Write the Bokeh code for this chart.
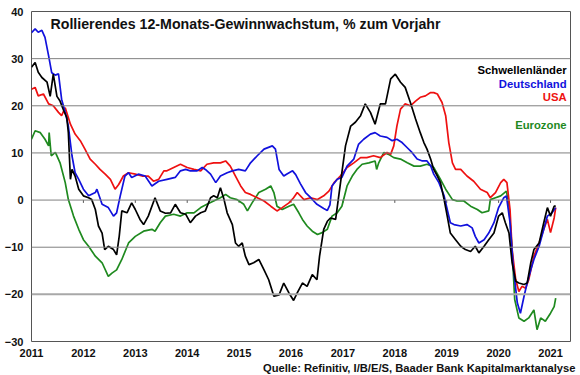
from bokeh.plotting import figure
from bokeh.models import FixedTicker, Span, Label, Range1d, Title
from bokeh.embed import file_html
from bokeh.resources import INLINE

# ---------------- data (decimal years, % yoy) ----------------
years = [2011, 2012, 2013, 2014, 2015, 2016, 2017, 2018, 2019, 2020, 2021]
y_ticks = [-30, -20, -10, 0, 10, 20, 30, 40]

t_em = [2011.00, 2011.07, 2011.13, 2011.20, 2011.30, 2011.36, 2011.42, 2011.49, 2011.55, 2011.62,
        2011.68, 2011.71, 2011.75, 2011.78, 2011.84, 2011.91, 2012.00, 2012.10, 2012.16, 2012.23,
        2012.29, 2012.36, 2012.41, 2012.48, 2012.58, 2012.64, 2012.69, 2012.74, 2012.84, 2012.93,
        2013.00, 2013.09, 2013.16, 2013.25, 2013.38, 2013.48, 2013.58, 2013.68, 2013.77, 2013.87,
        2013.97, 2014.06, 2014.16, 2014.26, 2014.35, 2014.45, 2014.51, 2014.58, 2014.64, 2014.71,
        2014.77, 2014.87, 2014.93, 2014.99, 2015.06, 2015.12, 2015.19, 2015.28, 2015.38, 2015.48,
        2015.57, 2015.67, 2015.77, 2015.86, 2015.96, 2016.05, 2016.12, 2016.22, 2016.31, 2016.41,
        2016.50, 2016.55, 2016.63, 2016.70, 2016.76, 2016.86, 2016.92, 2016.98, 2017.05, 2017.15,
        2017.24, 2017.34, 2017.43, 2017.53, 2017.62, 2017.72, 2017.82, 2017.92, 2018.01, 2018.11,
        2018.20, 2018.30, 2018.40, 2018.49, 2018.56, 2018.62, 2018.69, 2018.75, 2018.82, 2018.88,
        2018.95, 2019.01, 2019.07, 2019.17, 2019.27, 2019.36, 2019.46, 2019.55, 2019.62, 2019.72,
        2019.81, 2019.91, 2020.00, 2020.07, 2020.13, 2020.20, 2020.26, 2020.33, 2020.39, 2020.49,
        2020.55, 2020.62, 2020.68, 2020.78, 2020.87, 2020.94, 2021.00, 2021.07, 2021.10]
v_em = [28.2, 29.2, 27.1, 26.0, 25.0, 22.0, 26.7, 22.0, 21.0, 19.0,
        17.5, 14.3, 4.4, 6.5, 5.1, 2.3, 0.9, 0.5, 0.1, -2.0,
        -5.5, -7.0, -10.5, -9.8, -10.5, -11.6, -7.7, -2.3, -2.7, -0.6,
        -2.0, -4.1, -5.2, -3.4, 0.5, -2.3, -2.8, -2.7, -0.9, -2.7,
        -3.0, -4.8, -3.4, -2.7, -2.3, 0.5, 0.9, 0.5, 2.6, 0.1,
        -2.7, -5.2, -9.1, -9.8, -9.1, -11.9, -13.7, -13.3, -12.6, -14.8,
        -16.9, -20.4, -20.1, -17.6, -19.7, -21.3, -19.7, -17.6, -18.3, -15.8,
        -16.9, -11.9, -6.2, -4.5, -3.8, -4.1, 0.9, 5.8, 11.5, 15.7,
        16.5, 17.9, 20.4, 18.6, 16.1, 20.4, 20.4, 25.7, 26.7, 25.0,
        23.9, 20.7, 17.2, 14.3, 12.2, 10.8, 8.7, 6.5, 5.1, 3.7,
        0.1, -3.4, -7.0, -8.4, -9.8, -10.5, -10.9, -9.8, -11.2, -9.8,
        -8.4, -7.0, -3.4, -2.7, -4.8, -7.0, -13.3, -17.2, -17.6, -17.9,
        -17.6, -13.3, -10.5, -9.1, -4.8, -1.6, -3.4, -1.3, -1.3]

t_de = [2011.00, 2011.07, 2011.13, 2011.20, 2011.26, 2011.33, 2011.39, 2011.46, 2011.52, 2011.58,
        2011.65, 2011.71, 2011.78, 2011.84, 2011.91, 2012.00, 2012.10, 2012.23, 2012.26, 2012.36,
        2012.48, 2012.58, 2012.64, 2012.71, 2012.80, 2012.87, 2012.93, 2013.06, 2013.19, 2013.32,
        2013.45, 2013.61, 2013.77, 2013.87, 2013.97, 2014.06, 2014.19, 2014.29, 2014.35, 2014.45,
        2014.55, 2014.64, 2014.77, 2014.87, 2014.99, 2015.12, 2015.22, 2015.35, 2015.48, 2015.64,
        2015.70, 2015.77, 2015.86, 2015.93, 2016.03, 2016.09, 2016.18, 2016.28, 2016.38, 2016.50,
        2016.63, 2016.70, 2016.75, 2016.79, 2016.89, 2016.98, 2017.08, 2017.21, 2017.30, 2017.40,
        2017.53, 2017.62, 2017.72, 2017.85, 2017.95, 2018.04, 2018.14, 2018.24, 2018.33, 2018.43,
        2018.53, 2018.62, 2018.69, 2018.75, 2018.85, 2018.95, 2019.01, 2019.07, 2019.14, 2019.27,
        2019.39, 2019.49, 2019.55, 2019.62, 2019.72, 2019.81, 2019.91, 2020.00, 2020.10, 2020.15,
        2020.22, 2020.28, 2020.36, 2020.42, 2020.49, 2020.55, 2020.62, 2020.68, 2020.78, 2020.87,
        2020.94, 2021.03, 2021.10]
v_de = [35.5, 36.3, 35.6, 36.0, 34.5, 30.6, 27.0, 26.5, 26.8, 21.4,
        18.6, 15.7, 9.4, 5.8, 4.4, 2.3, 0.9, 1.6, 2.3, -0.9,
        -1.6, -3.4, -2.7, 0.9, 5.1, 5.8, 4.8, 5.5, 5.1, 3.0,
        4.0, 4.4, 4.8, 6.2, 6.5, 6.2, 6.2, 6.9, 6.5, 5.5,
        3.7, 5.1, 5.8, 6.2, 6.5, 6.2, 7.9, 9.4, 10.8, 11.5,
        10.8, 6.5, 5.1, 5.6, 6.2, 5.4, 3.5, 1.6, 0.5, -0.9,
        -1.8, -2.2, -1.0, 3.0, 4.4, 4.8, 7.2, 8.7, 11.8, 12.9,
        14.0, 14.3, 13.6, 13.3, 12.6, 12.9, 12.2, 11.1, 10.1, 8.7,
        8.3, 8.3, 7.3, 5.5, 3.7, 0.9, -2.0, -4.8, -5.2, -5.5,
        -5.2, -5.9, -7.7, -9.1, -8.4, -7.0, -4.8, -1.6, 0.5, 0.9,
        -4.8, -14.0, -21.8, -24.0, -20.4, -17.6, -14.8, -12.6, -9.8, -6.2,
        -3.4, -2.7, -1.6]

t_us = [2011.00, 2011.07, 2011.13, 2011.23, 2011.33, 2011.42, 2011.52, 2011.58, 2011.65, 2011.75,
        2011.84, 2011.94, 2012.03, 2012.13, 2012.23, 2012.32, 2012.42, 2012.52, 2012.61, 2012.68,
        2012.77, 2012.87, 2013.00, 2013.13, 2013.25, 2013.35, 2013.45, 2013.55, 2013.61, 2013.74,
        2013.87, 2014.00, 2014.13, 2014.26, 2014.38, 2014.51, 2014.64, 2014.74, 2014.83, 2014.93,
        2015.03, 2015.12, 2015.22, 2015.35, 2015.48, 2015.61, 2015.73, 2015.83, 2015.96, 2016.05,
        2016.12, 2016.25, 2016.38, 2016.51, 2016.63, 2016.73, 2016.83, 2016.95, 2017.08, 2017.21,
        2017.34, 2017.46, 2017.59, 2017.72, 2017.85, 2017.92, 2017.98, 2018.04, 2018.11, 2018.20,
        2018.30, 2018.40, 2018.49, 2018.59, 2018.69, 2018.75, 2018.82, 2018.91, 2018.98, 2019.04,
        2019.11, 2019.17, 2019.27, 2019.39, 2019.52, 2019.65, 2019.78, 2019.84, 2019.94, 2020.04,
        2020.10, 2020.16, 2020.22, 2020.26, 2020.33, 2020.39, 2020.45, 2020.52, 2020.58, 2020.68,
        2020.78, 2020.87, 2020.94, 2021.00, 2021.07, 2021.10]
v_us = [23.5, 23.9, 22.1, 22.5, 20.4, 20.0, 18.6, 17.9, 19.6, 16.1,
        14.0, 12.6, 10.8, 8.7, 7.6, 6.5, 5.5, 4.4, 2.3, 3.3,
        5.1, 5.8, 5.5, 5.1, 5.1, 4.0, 4.4, 6.2, 6.2, 6.9,
        7.6, 6.9, 6.5, 6.2, 7.6, 7.9, 7.9, 8.3, 7.2, 5.1,
        3.0, 1.6, 1.2, 0.5, -0.2, -1.3, -2.3, -1.6, -0.6, 0.5,
        1.6, 0.1, 0.5, 0.1, 0.9, 1.9, 3.7, 5.1, 6.9, 7.9,
        9.0, 9.0, 9.4, 9.0, 10.1, 9.7, 11.5, 15.7, 19.3, 20.4,
        20.0, 21.0, 21.8, 22.1, 22.8, 22.8, 22.5, 20.7, 17.9, 12.2,
        7.9, 6.5, 6.5, 5.1, 4.0, 2.3, 1.6, 0.5, 1.6, 3.7,
        4.4, 3.7, -2.0, -10.5, -16.9, -19.4, -18.3, -18.7, -16.9, -11.9,
        -9.1, -6.2, -4.1, -6.9, -3.8, -1.6]

t_ez = [2011.00, 2011.07, 2011.17, 2011.26, 2011.33, 2011.34, 2011.38, 2011.46, 2011.55, 2011.65,
        2011.71, 2011.81, 2011.91, 2012.00, 2012.10, 2012.23, 2012.36, 2012.48, 2012.55, 2012.64,
        2012.74, 2012.87, 2013.00, 2013.16, 2013.32, 2013.38, 2013.48, 2013.58, 2013.74, 2013.87,
        2014.00, 2014.13, 2014.26, 2014.38, 2014.51, 2014.64, 2014.74, 2014.83, 2014.96, 2015.09,
        2015.16, 2015.25, 2015.38, 2015.51, 2015.61, 2015.67, 2015.73, 2015.83, 2015.96, 2016.05,
        2016.15, 2016.22, 2016.31, 2016.41, 2016.51, 2016.60, 2016.70, 2016.79, 2016.89, 2016.98,
        2017.08, 2017.18, 2017.27, 2017.37, 2017.50, 2017.62, 2017.65, 2017.69, 2017.79, 2017.88,
        2017.98, 2018.11, 2018.24, 2018.37, 2018.49, 2018.62, 2018.69, 2018.75, 2018.88, 2018.98,
        2019.11, 2019.20, 2019.33, 2019.46, 2019.59, 2019.68, 2019.81, 2019.84, 2019.94, 2020.04,
        2020.15, 2020.20, 2020.26, 2020.31, 2020.39, 2020.49, 2020.58, 2020.68, 2020.74, 2020.81,
        2020.90, 2021.00, 2021.07, 2021.10]
v_ez = [12.9, 14.7, 14.3, 12.9, 11.5, 14.3, 9.4, 10.1, 7.9, 3.7,
        0.1, -3.4, -6.2, -8.4, -9.8, -11.9, -13.3, -16.2, -15.5, -14.8,
        -12.6, -9.1, -7.7, -6.6, -6.2, -6.6, -4.8, -3.4, -3.0, -3.4,
        -2.7, -2.7, -1.6, -0.9, -0.2, 0.5, 1.2, 0.5, 0.1, -0.9,
        -2.3, -0.6, 1.6, 2.3, 3.0, 1.6, -1.3, -2.0, -1.3, -0.9,
        -2.7, -4.1, -5.5, -6.6, -7.3, -6.9, -6.2, -3.4, -2.7, -1.3,
        3.0, 5.1, 6.5, 7.6, 7.9, 8.3, 6.5, 7.9, 10.1, 9.7,
        9.0, 8.7, 7.9, 7.2, 7.2, 7.6, 7.3, 6.9, 4.4, 2.3,
        0.1, -0.2, -0.2, -1.3, -2.0, -2.7, -2.3, 0.1, 0.5, 0.9,
        1.9, -1.3, -10.5, -21.1, -25.0, -25.7, -25.0, -23.3, -27.5, -25.0,
        -25.7, -24.0, -22.6, -20.8]

series = [
    ("Eurozone", t_ez, v_ez, "#1f8a1f"),
    ("USA", t_us, v_us, "#ee1111"),
    ("Deutschland", t_de, v_de, "#1111dd"),
    ("Schwellenländer", t_em, v_em, "#000000"),
]
legend_order = ["Schwellenländer", "Deutschland", "USA", "Eurozone"]
legend_y = [27.6, 24.6, 21.85, 15.9]

FONT = "Liberation Sans"

p = figure(width=580, height=375, output_backend="svg", toolbar_location=None,
           x_range=Range1d(2011.0, 2021.385), y_range=Range1d(-30, 40),
           min_border_left=31, min_border_right=10, min_border_top=11, min_border_bottom=34)
p.background_fill_color = "white"
p.border_fill_color = "white"
p.outline_line_color = "#555555"
p.outline_line_width = 1
p.xgrid.visible = False
p.ygrid.visible = False

for ax in (p.xaxis, p.yaxis):
    ax.axis_line_color = None
    ax.major_tick_line_color = None
    ax.minor_tick_line_color = None
    ax.major_tick_out = 0
    ax.major_tick_in = 0
    ax.minor_tick_out = 0
    ax.minor_tick_in = 0
    ax.major_label_text_font = FONT
    ax.major_label_text_font_style = "bold"
    ax.major_label_text_font_size = "11px"
    ax.major_label_text_color = "#111111"
p.xaxis.ticker = FixedTicker(ticks=years)
p.yaxis.ticker = FixedTicker(ticks=y_ticks)
p.xaxis.major_label_standoff = 7
p.yaxis.major_label_standoff = 8

p.add_layout(Title(text="Quelle: Refinitiv, I/B/E/S, Baader Bank Kapitalmarktanalyse",
                   align="right", text_font=FONT, text_font_style="bold",
                   text_font_size="11.2px", text_color="#111111", standoff=0, offset=-5), "below")

for yt in y_ticks[1:-1]:
    col = "#a8a8a8" if yt == -20 else "#808080"
    wid = 2 if yt == -20 else 1
    p.add_layout(Span(location=yt, dimension="width", line_color=col, line_width=wid))

# small tick marks on the zero line
p.segment(x0=years, y0=[0] * len(years), x1=years, y1=[-0.6] * len(years),
          line_color="#555555", line_width=1)

colors = {}
for name, t, v, c in series:
    p.line(t, v, line_color=c, line_width=1.7)
    colors[name] = c

p.add_layout(Label(x=2011.366, y=37.25, text="Rollierendes 12-Monats-Gewinnwachstum, % zum Vorjahr",
                   text_font=FONT, text_font_style="bold", text_font_size="14.2px",
                   text_baseline="middle", text_align="left", text_color="#111111"))

for name, yy in zip(legend_order, legend_y):
    p.add_layout(Label(x=2021.31, y=yy, text=name, text_font=FONT, text_font_style="bold",
                       text_font_size="11.3px", text_baseline="middle", text_align="right",
                       text_color=colors[name]))

open("out.html", "w").write(file_html(p, INLINE))
